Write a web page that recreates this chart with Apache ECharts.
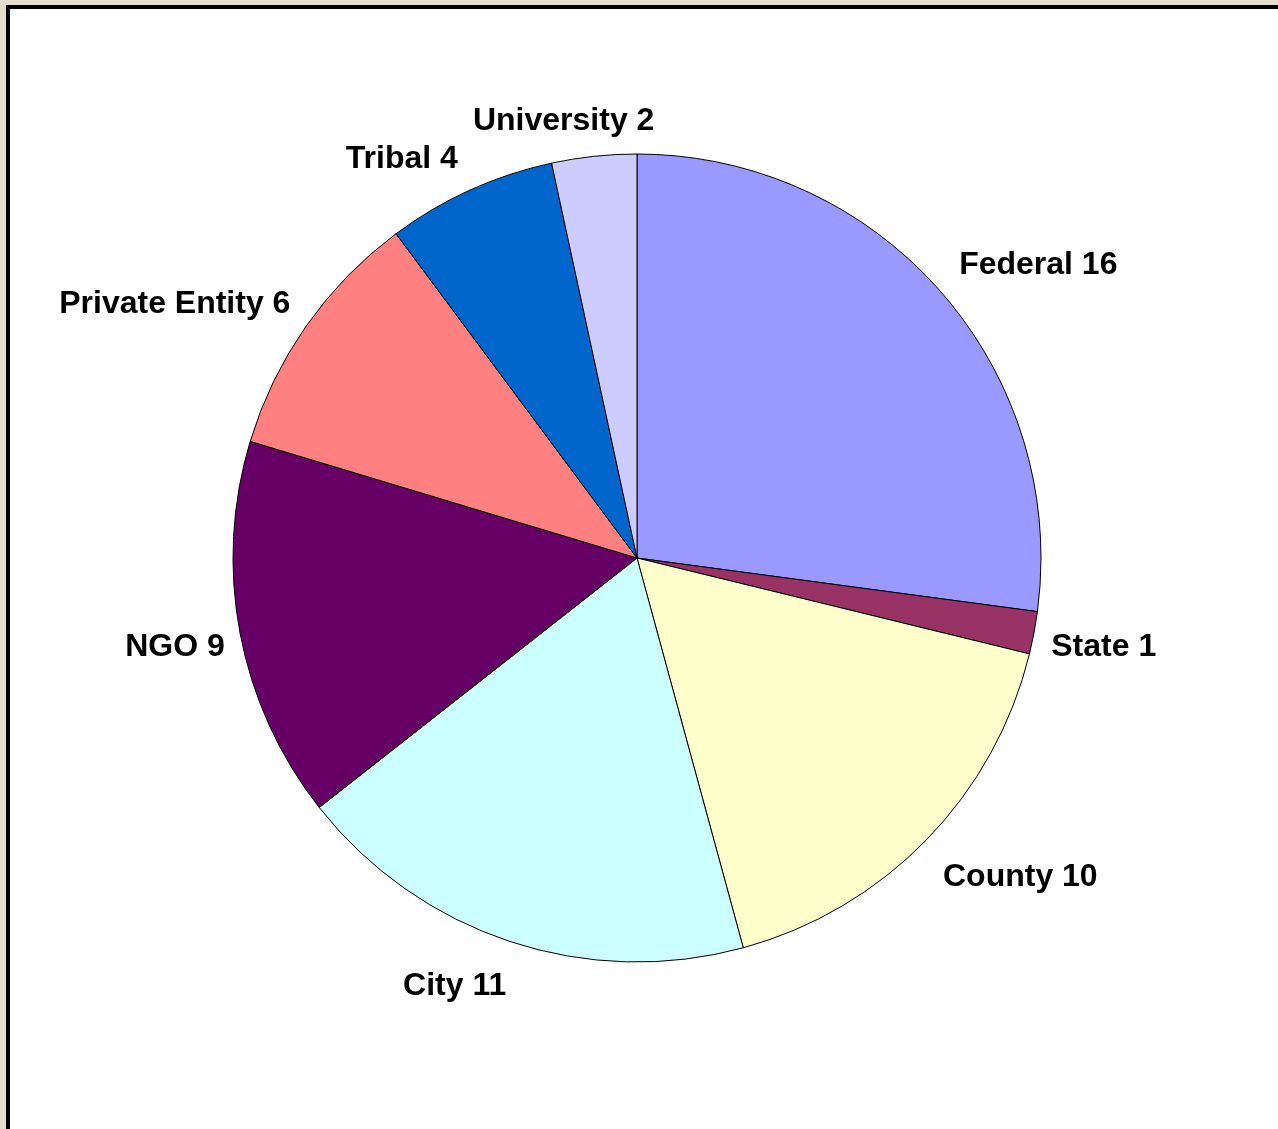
<!DOCTYPE html>
<html>
<head>
<meta charset="utf-8">
<script src="https://cdn.jsdelivr.net/npm/echarts@6/dist/echarts.min.js"></script>
<style>
html,body{margin:0;padding:0;background:#e4dccc;}
#chart{width:1278px;height:1129px;}
</style>
</head>
<body>
<div id="chart"></div>
<script>
const categories = ['Federal', 'State', 'County', 'City', 'NGO', 'Private Entity', 'Tribal', 'University'];
const counts = [16, 1, 10, 11, 9, 6, 4, 2];
const sliceColors = ['#9999FF', '#993366', '#FFFFCC', '#CCFFFF', '#660066', '#FF8080', '#0066CC', '#CCCCFF'];

// small per-label placement nudges (pixels) to mimic the original label placement
const labelNudges = [[-20, 2], [-31, 6], [-20, 7], [15, 3], [33, 6], [25, 4], [11, 9], [70, 9]];

const chart = echarts.init(document.getElementById('chart'), null, {renderer: 'canvas'});
chart.setOption({
  animation: false,
  backgroundColor: '#e4dccc',
  graphic: [{
    type: 'rect',
    z: -10,
    shape: {x: 8, y: 7, width: 1400, height: 1300},
    style: {fill: '#ffffff', stroke: '#000000', lineWidth: 4}
  }],
  series: [{
    type: 'pie',
    center: [637, 558],
    radius: 404,
    startAngle: 90,
    clockwise: true,
    avoidLabelOverlap: false,
    data: categories.map((c, i) => ({name: c, value: counts[i], itemStyle: {color: sliceColors[i]}})),
    itemStyle: {borderColor: '#000000', borderWidth: 1},
    label: {
      show: true,
      position: 'outside',
      formatter: '{b} {c}',
      fontFamily: '"Liberation Sans", Arial, sans-serif',
      fontWeight: 'bold',
      fontSize: 32,
      color: '#000000'
    },
    labelLine: {show: false, length: 44, length2: 0},
    labelLayout: function (p) {
      const n = labelNudges[p.dataIndex] || [0, 0];
      return {dx: n[0], dy: n[1]};
    },
    emphasis: {disabled: true}
  }]
});
</script>
</body>
</html>
